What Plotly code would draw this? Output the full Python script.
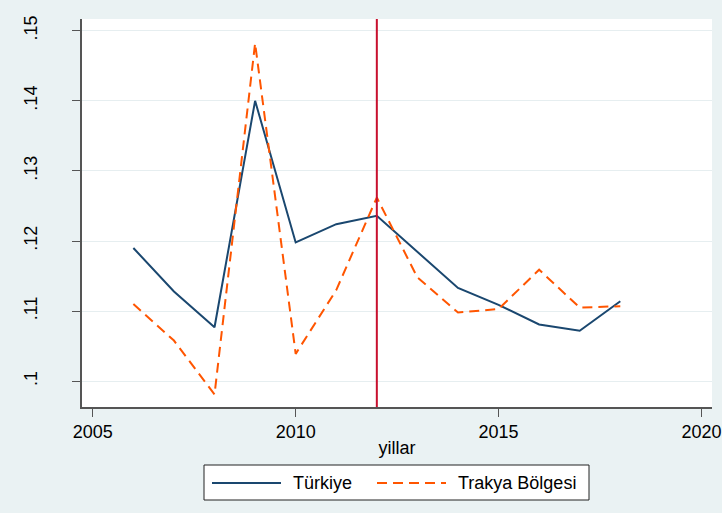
import plotly.graph_objects as go

years = [2006, 2007, 2008, 2009, 2010, 2011, 2012, 2013, 2014, 2015, 2016, 2017, 2018]
turkiye = [0.1190, 0.1128, 0.1077, 0.1400, 0.1198, 0.1224, 0.1236, 0.1184, 0.1133, 0.1109, 0.1081, 0.1072, 0.1114]
trakya = [0.1110, 0.1058, 0.0981, 0.1482, 0.1039, 0.1130, 0.1262, 0.1148, 0.1098, 0.1103, 0.1159, 0.1105, 0.1107]
series_names = ["Türkiye", "Trakya Bölgesi"]
x_ticks = [2005, 2010, 2015, 2020]
y_ticks = [0.10, 0.11, 0.12, 0.13, 0.14, 0.15]
y_tick_labels = [".1", ".11", ".12", ".13", ".14", ".15"]
event_year = 2012
x_title = "yillar"

NAVY = "#1A476F"
ORANGE = "#FF5500"
RED = "#C8102E"
BG = "#EAF2F3"
FONT = "Arial, Liberation Sans, sans-serif"

fig = go.Figure()
fig.add_trace(go.Scatter(x=years, y=turkiye, mode="lines", name=series_names[0],
                         line=dict(color=NAVY, width=2), showlegend=False, hoverinfo="skip"))
fig.add_trace(go.Scatter(x=years, y=trakya, mode="lines", name=series_names[1],
                         line=dict(color=ORANGE, width=2, dash="10px,6px"), showlegend=False,
                         hoverinfo="skip"))

fig.add_shape(type="line", x0=event_year, x1=event_year, xref="x", yref="paper", y0=0, y1=1,
              line=dict(color=RED, width=2))

# custom legend (Stata style)
W, H, L, T = 630.0, 388.0, 82.0, 19.0
def px(x):
    return (x - L) / W
def py(y):
    return (T + H - y) / H

fig.add_shape(type="rect", xref="paper", yref="paper", x0=px(204), x1=px(589), y0=py(465), y1=py(500),
              line=dict(color="#222222", width=1), fillcolor="white", layer="above")
fig.add_shape(type="line", xref="paper", yref="paper", x0=px(212), x1=px(281), y0=py(483), y1=py(483),
              line=dict(color=NAVY, width=2))
fig.add_shape(type="line", xref="paper", yref="paper", x0=px(377), x1=px(446), y0=py(483), y1=py(483),
              line=dict(color=ORANGE, width=2, dash="10px,6px"))
fig.add_annotation(xref="paper", yref="paper", x=px(291), y=py(483), text=series_names[0],
                   showarrow=False, xanchor="left", yanchor="middle",
                   font=dict(family=FONT, size=18, color="black"))
fig.add_annotation(xref="paper", yref="paper", x=px(456), y=py(483), text=series_names[1],
                   showarrow=False, xanchor="left", yanchor="middle",
                   font=dict(family=FONT, size=18, color="black"))

fig.update_layout(
    width=722, height=513,
    margin=dict(l=82, r=10, t=19, b=106),
    paper_bgcolor=BG, plot_bgcolor="white",
    font=dict(family=FONT, size=18, color="black"),
    showlegend=False,
)
fig.update_xaxes(range=[2004.734, 2020.26], tickvals=x_ticks, ticks="outside", ticklen=8,
                 tickcolor="#555555", showgrid=False, showline=True, linecolor="#555555", linewidth=1.5,
                 zeroline=False, title=dict(text=x_title, standoff=0, font=dict(size=18)),
                 tickfont=dict(size=18), ticklabelstandoff=0, automargin=False)
fig.update_yaxes(range=[0.09632, 0.15167], tickvals=y_ticks, ticktext=y_tick_labels, tickangle=-90,
                 ticks="outside", ticklen=8, tickcolor="#555555", showgrid=True, gridcolor="#E6EEF0",
                 gridwidth=1, showline=True, linecolor="#555555", linewidth=1.5, zeroline=False,
                 tickfont=dict(size=18), ticklabelstandoff=28, automargin=False)

fig.write_html("out.html", config={"displayModeBar": False},
               post_script="document.body.style.margin='0';document.body.style.padding='0';")
